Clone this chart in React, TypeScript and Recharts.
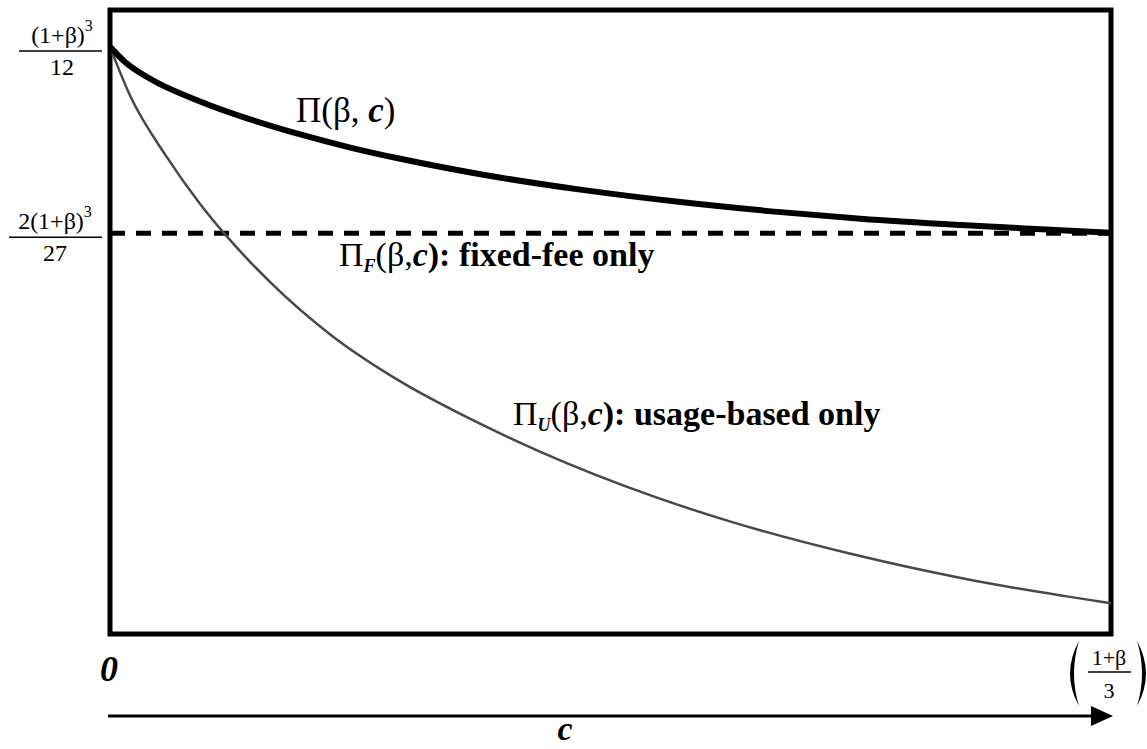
import { LineChart, Line, XAxis, YAxis, ReferenceLine, ReferenceArea } from 'recharts';

// c is measured in units of (1+β)/3, profit in units of (1+β)^3/12
const C_PI = [0, 0.015, 0.04, 0.09, 0.14, 0.19, 0.24, 0.29, 0.37, 0.47, 0.57, 0.67, 0.75, 0.85, 1.0];
const PI_TOTAL = [1.0, 0.991, 0.981, 0.9675, 0.9568, 0.9478, 0.94, 0.9333, 0.9241, 0.9149, 0.9075, 0.9015, 0.8976, 0.8938, 0.8892];

const C_USAGE = [0, 0.02, 0.056, 0.09, 0.115, 0.16, 0.22, 0.29, 0.36, 0.43, 0.545, 0.62, 0.74, 0.855, 1.0];
const PI_USAGE = [1.0, 0.971, 0.935, 0.9064, 0.8882, 0.8598, 0.8286, 0.8006, 0.7782, 0.7586, 0.7316, 0.717, 0.6978, 0.6828, 0.6683];

// fixed-fee profit 2(1+β)^3/27 relative to (1+β)^3/12
const PI_FIXED = 8 / 9;

const Y_TICKS = [1, PI_FIXED];
const Y_NUM_PREFIX = ['', '2'];
const Y_DEN = ['12', '27'];
const X_TICKS = [0, 1];

const Y_DOMAIN = [0.65, 1.022];

const totalData = C_PI.map((c, i) => ({ c, v: PI_TOTAL[i] }));
const usageData = C_USAGE.map((c, i) => ({ c, v: PI_USAGE[i] }));

const FONT = '"Liberation Serif", "Times New Roman", serif';

function YFracTick({ y, payload }: any) {
  const i = Y_TICKS.indexOf(payload.value);
  if (i < 0) return null;
  const cx = i === 0 ? 62 : 55;
  const left = i === 0 ? 19 : 9;
  return (
    <g fontFamily={FONT} fill="#000">
      <text x={cx} y={y - 4} textAnchor="middle" fontSize={24}>
        {Y_NUM_PREFIX[i]}(1+β)
        <tspan dy={-12} fontSize={16}>3</tspan>
      </text>
      <line x1={left} x2={102} y1={y + 4} y2={y + 4} stroke="#000" strokeWidth={1.5} />
      <text x={cx} y={y + 28} textAnchor="middle" fontSize={24}>
        {Y_DEN[i]}
      </text>
    </g>
  );
}

function XTick({ x, y, payload }: any) {
  if (payload.value === 0) {
    return (
      <text x={x - 1} y={y + 39} textAnchor="middle" fontFamily={FONT} fontSize={36} fontWeight="bold" fontStyle="italic">
        0
      </text>
    );
  }
  const cx = x - 2;
  const top = y - 1;
  const bot = y + 64;
  const mid = (top + bot) / 2;
  return (
    <g fontFamily={FONT} fill="#000">
      <path d={`M ${cx - 30} ${top} Q ${cx - 48} ${mid} ${cx - 30} ${bot} Q ${cx - 40} ${mid} ${cx - 30} ${top} Z`} />
      <path d={`M ${cx + 28} ${top} Q ${cx + 46} ${mid} ${cx + 28} ${bot} Q ${cx + 38} ${mid} ${cx + 28} ${top} Z`} />
      <text x={cx} y={y + 23} textAnchor="middle" fontSize={22}>1+β</text>
      <line x1={cx - 21} x2={cx + 22} y1={y + 30} y2={y + 30} stroke="#000" strokeWidth={1.5} />
      <text x={cx} y={y + 56} textAnchor="middle" fontSize={22}>3</text>
    </g>
  );
}

export default function App() {
  return (
    <div style={{ position: 'absolute', left: 0, top: 0, width: 1147, height: 749, background: '#fff' }}>
      <LineChart width={1147} height={749} margin={{ top: 10, right: 36, bottom: 0, left: 0 }}>
        <XAxis
          type="number"
          dataKey="c"
          domain={[0, 1]}
          ticks={X_TICKS}
          axisLine={false}
          tickLine={false}
          height={115}
          tick={<XTick />}
          interval={0}
        />
        <YAxis
          type="number"
          domain={Y_DOMAIN}
          ticks={Y_TICKS}
          axisLine={false}
          tickLine={false}
          width={110}
          tick={<YFracTick />}
          interval={0}
        />
        <ReferenceArea x1={0} x2={1} y1={Y_DOMAIN[0]} y2={Y_DOMAIN[1]} fill="none" fillOpacity={0} stroke="#000" strokeWidth={5} />
        <ReferenceLine y={PI_FIXED} stroke="#000" strokeWidth={5} strokeDasharray="15 11" />
        <Line data={usageData} dataKey="v" type="monotone" stroke="#484848" strokeWidth={2.5} dot={false} isAnimationActive={false} />
        <Line data={totalData} dataKey="v" type="monotone" stroke="#000" strokeWidth={6} dot={false} isAnimationActive={false} />
      </LineChart>

      {/* annotations and the c-axis arrow */}
      <svg width={1147} height={749} style={{ position: 'absolute', left: 0, top: 0, pointerEvents: 'none' }} fontFamily={FONT}>
        <text x={296} y={122} fontSize={35}>
          Π(β, <tspan fontWeight="bold" fontStyle="italic">c</tspan>)
        </text>
        <text x={339} y={266} fontSize={34}>
          Π<tspan fontSize={18} fontWeight="bold" fontStyle="italic" dy={6}>F</tspan>
          <tspan dy={-6}>(β,</tspan>
          <tspan fontWeight="bold" fontStyle="italic">c</tspan>
          <tspan fontWeight="bold">): fixed-fee only</tspan>
        </text>
        <text x={513} y={425} fontSize={34}>
          Π<tspan fontSize={18} fontWeight="bold" fontStyle="italic" dy={6}>U</tspan>
          <tspan dy={-6}>(β,</tspan>
          <tspan fontWeight="bold" fontStyle="italic">c</tspan>
          <tspan fontWeight="bold">): usage-based only</tspan>
        </text>
        <line x1={108} x2={1096} y1={716} y2={716} stroke="#000" strokeWidth={3} />
        <polygon points="1091,706 1113,716 1091,726" fill="#000" />
        <text x={565} y={740} textAnchor="middle" fontSize={34} fontWeight="bold" fontStyle="italic">
          c
        </text>
      </svg>
    </div>
  );
}
